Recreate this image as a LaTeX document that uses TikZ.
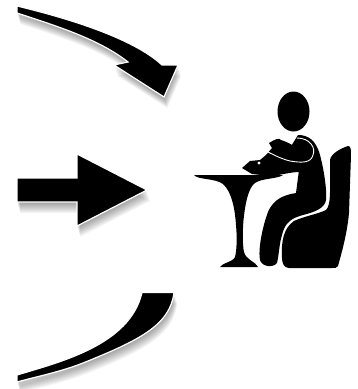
\documentclass[tikz,border=0pt]{standalone}
\usepackage{tikz}

% outlines of the three arrows, in pixels of the reference
\newcommand{\toparrowpath}{(17,6) .. controls (67,18) and (133,38) .. (162,65) -- (178,65) -- (164,97) -- (114,65) -- (128,62) .. controls (100,40) and (60,27) .. (17,13) -- cycle}
\newcommand{\midarrowpath}{(17,178) -- (77,178) -- (77,154) -- (147,190) -- (77,226) -- (77,202) -- (17,202) -- cycle}
\newcommand{\lowarrowpath}{(142,292.5) -- (174,292.5) .. controls (170,325) and (140,340) .. (83,363) .. controls (60,372) and (35,377) .. (17,382) -- (17,375) .. controls (60,362) and (130,345) .. (142,292.5) -- cycle}

\begin{document}
\begin{tikzpicture}[
    x=1pt, y=-1pt,
    solid arrow/.style={fill=black, draw=white, line width=1.2pt, line join=miter},
    drop/.style={fill=black, opacity=0.04},
    figure part/.style={fill=black},
    halo/.style={draw=white, line width=0.9pt, fill=none}
  ]
    \useasboundingbox (0,0) rectangle (358,389);

    % Soft shadows under the arrows
    \foreach \d in {2,3,...,11} {
      \fill[drop, shift={(0.3*\d,\d)}] \toparrowpath;
      \fill[drop, shift={(0.3*\d,\d)}] \midarrowpath;
      \fill[drop, shift={(0.3*\d,\d)}] \lowarrowpath;
    }

    % Three arrows
    \path[solid arrow] \toparrowpath;
    \path[solid arrow] \midarrowpath;
    \path[solid arrow] \lowarrowpath;

    % Table
    \fill[figure part] (194,175) -- (283,175) .. controls (278,179) and (262,178) .. (255,183)
      .. controls (248,188) and (245,205) .. (243.5,220) .. controls (242.5,232) and (242.5,245) .. (244,252)
      .. controls (246,260) and (256,262) .. (258,267) -- (220,267) .. controls (222,263) and (233,262) .. (235,257)
      .. controls (237,250) and (237,235) .. (236,225) .. controls (235,210) and (232,192) .. (223,184)
      .. controls (215,178) and (198,180) .. (194,175) -- cycle;

    % Chair
    \fill[figure part] (348,146) .. controls (351,146) and (351,150) .. (351,155) -- (349,213)
      .. controls (347,235) and (341,255) .. (338,266) .. controls (337,268) and (335,268) .. (332,268)
      -- (289,268) .. controls (284,268) and (282,263) .. (282,258) .. controls (281,240) and (284,228) .. (294,221)
      .. controls (305,216) and (318,214) .. (326,210) .. controls (331,205) and (330,190) .. (330,175)
      -- (330,160) .. controls (331,153) and (342,148) .. (348,146) -- cycle;

    % Sitting figure
    \fill[figure part] (293.5,111.5) ellipse (16 and 20);
    \fill[figure part] (298,135) .. controls (308,135) and (316,140) .. (320,155)
      .. controls (324,170) and (327,190) .. (326,200) .. controls (325,208) and (315,212) .. (303,215)
      .. controls (292,218) and (285,222) .. (282,235) .. controls (279,245) and (279,255) .. (277,263)
      .. controls (273,268) and (262,267) .. (260,260) .. controls (258,250) and (262,228) .. (268,212)
      .. controls (274,198) and (285,195) .. (296,193) -- (299,170) -- (290,148) -- cycle;

    % Arm and hand on the table
    \fill[figure part] (242,168) -- (250,161) -- (260,160) -- (266,155) -- (272,148) -- (269,143)
      .. controls (274,140) and (279,137) .. (281,140) .. controls (290,143) and (294,146) .. (296,148)
      -- (300,172) .. controls (290,172) and (282,175) .. (270,176) -- (252,174) -- cycle;
    \draw[halo] (297,138) .. controls (310,138) and (316,148) .. (313,155) .. controls (311,163) and (302,163) .. (290,161)
      .. controls (282,159) and (276,156) .. (268,152);
    \fill[white] (259,163) circle (1.6);
\end{tikzpicture}
\end{document}
